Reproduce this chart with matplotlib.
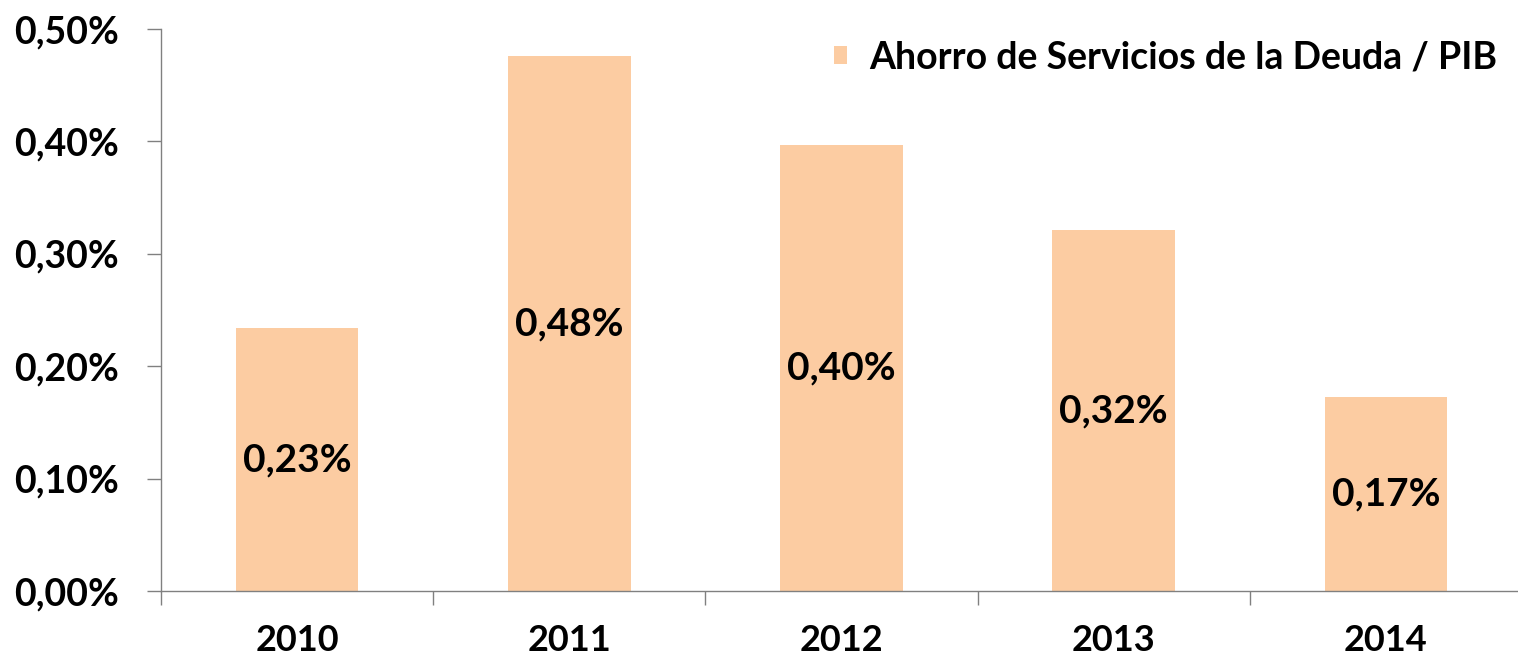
import matplotlib
matplotlib.use("Agg")
import matplotlib.pyplot as plt
import numpy as np

plt.rcParams['font.family'] = ['Lato', 'DejaVu Sans']

# data
years = ['2010', '2011', '2012', '2013', '2014']
ratio = [0.234, 0.476, 0.397, 0.321, 0.173]   # % del PIB
y_ticks = [0.0, 0.1, 0.2, 0.3, 0.4, 0.5]
series_name = 'Ahorro de Servicios de la Deuda / PIB'

bar_color = '#FCCCA2'
axis_color = '#808080'

fig = plt.figure(figsize=(15.18, 6.62), dpi=100)
ax = fig.add_axes([161 / 1518, 71 / 662, 1361 / 1518, 562 / 662])

x = np.arange(len(years))
bars = ax.bar(x, ratio, width=0.45, color=bar_color, label=series_name)

for xi, v in zip(x, ratio):
    ax.text(xi, v / 2, f'{v:.2f}%'.replace('.', ','), ha='center', va='center',
            fontsize=28, fontweight='bold', color='black')

ax.set_xlim(-0.5, len(years) - 0.5)
ax.set_ylim(0, 0.5)

ax.set_yticks(y_ticks)
ax.set_yticklabels([f'{t:.2f}%'.replace('.', ',') for t in y_ticks],
                   fontsize=27, fontweight='bold')

# ticks on category boundaries, labels at category centers
ax.set_xticks(np.arange(len(years) + 1) - 0.5)
ax.set_xticklabels([])
ax.set_xticks(x, minor=True)
ax.set_xticklabels(years, minor=True, fontsize=26, fontweight='bold')
ax.tick_params(axis='x', which='minor', length=0, pad=24)
ax.tick_params(axis='x', which='major', length=10, width=1, color=axis_color)
ax.tick_params(axis='y', length=10, width=1, color=axis_color, pad=20)

for side in ['top', 'right']:
    ax.spines[side].set_visible(False)
for side in ['left', 'bottom']:
    ax.spines[side].set_color(axis_color)
    ax.spines[side].set_linewidth(1)

leg = ax.legend(loc='upper right', bbox_to_anchor=(1.007, 1.04), frameon=False,
                prop={'size': 27, 'weight': 'bold'}, handlelength=0.35,
                handleheight=0.35, handletextpad=0.6)

fig.savefig('out.png', dpi=100)
